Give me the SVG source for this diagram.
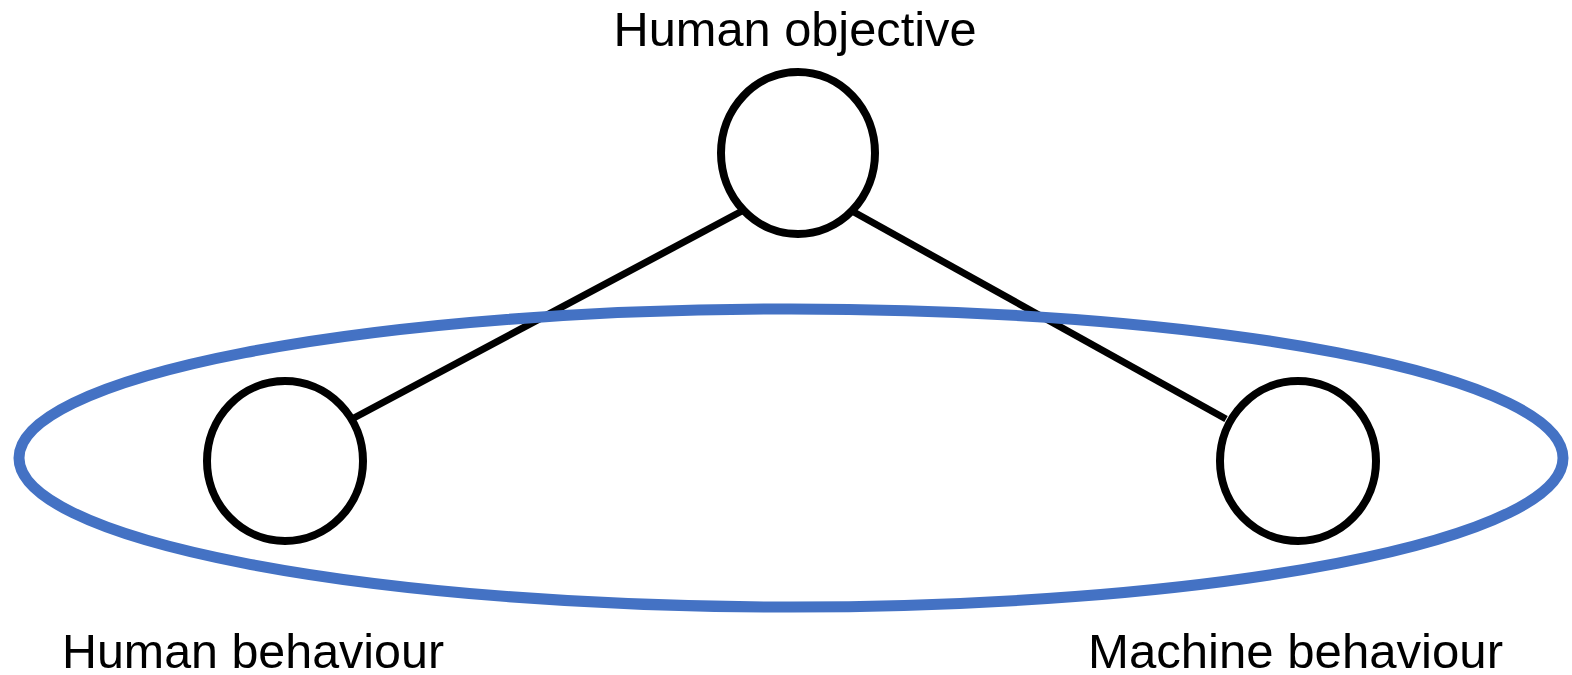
<svg xmlns="http://www.w3.org/2000/svg" width="1572" height="675" viewBox="0 0 1572 675">
<style>
.node{fill:#fff;stroke:#000;stroke-width:8}
.edge{stroke:#000;stroke-width:7}
.lbl{font-family:"Liberation Sans",Arial,sans-serif;font-size:48px;fill:#000;text-anchor:middle}
.group{fill:none;stroke:#4472C4;stroke-width:11}
</style>
<rect width="1572" height="675" fill="#fff"/>
<g id="connectors">
<line class="edge" x1="742" y1="211" x2="352" y2="419"/>
<line class="edge" x1="852" y1="211" x2="1226" y2="419"/>
</g>
<g id="top-node">
<ellipse class="node" cx="798" cy="153" rx="77" ry="81"/>
<text class="lbl" x="795" y="46" textLength="363" lengthAdjust="spacingAndGlyphs">Human objective</text>
</g>
<g id="human-behaviour">
<ellipse class="node" cx="285" cy="461" rx="78" ry="80"/>
<text class="lbl" x="253" y="668" textLength="382" lengthAdjust="spacingAndGlyphs">Human behaviour</text>
</g>
<g id="machine-behaviour">
<ellipse class="node" cx="1298" cy="461" rx="78" ry="80"/>
<text class="lbl" x="1295.5" y="668" textLength="415" lengthAdjust="spacingAndGlyphs">Machine behaviour</text>
</g>
<g id="group-ellipse">
<ellipse class="group" cx="791" cy="458" rx="772" ry="149"/>
</g>
</svg>
